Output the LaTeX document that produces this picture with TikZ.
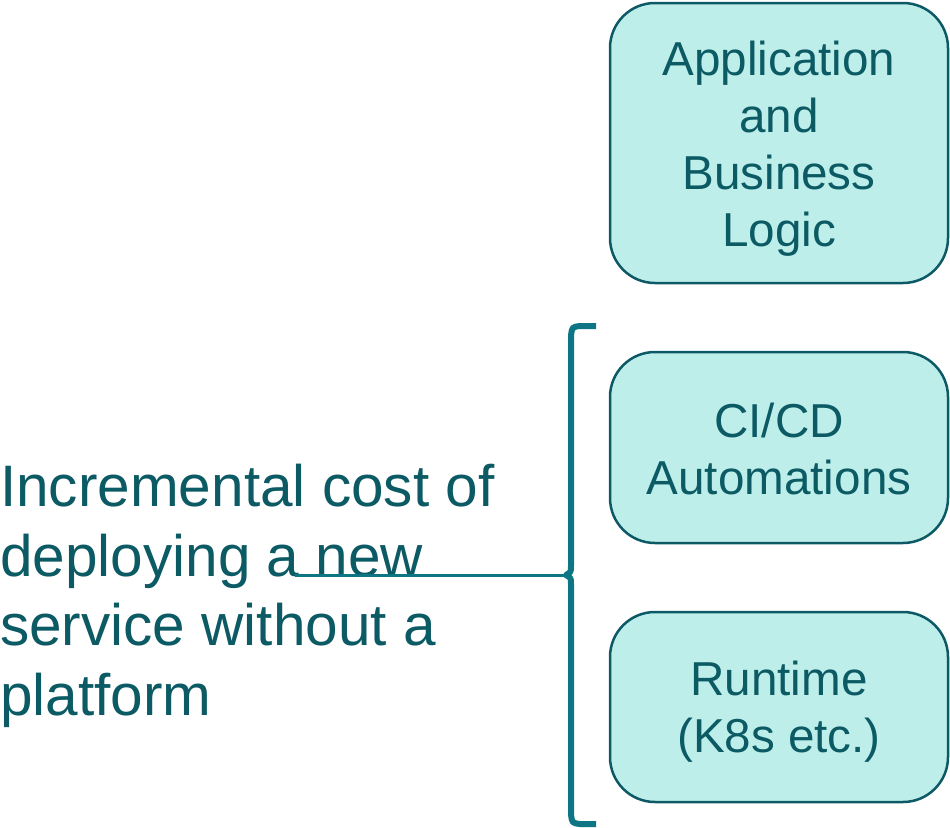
\documentclass[tikz,border=0pt]{standalone}
\usepackage{fontspec}
\setmainfont{Liberation Sans}
\definecolor{txt}{HTML}{0B5A64}
\definecolor{boxfill}{HTML}{BDEEEA}
\definecolor{boxline}{HTML}{0D5A66}
\definecolor{brace}{HTML}{0E7585}
\tikzset{
  layer/.style={draw=boxline, line width=2.5pt, fill=boxfill, rounded corners=45pt},
  boxtext/.style={text=txt, align=center, inner sep=0pt, font=\fontsize{47.6pt}{57pt}\selectfont},
  bracestyle/.style={draw=brace, line width=6pt, line join=round},
}
\begin{document}
\begin{tikzpicture}[x=1pt,y=-1pt]
\useasboundingbox (0,0) rectangle (950,827);
% boxes
\draw[layer] (610,3) rectangle (948,283);
\draw[layer] (610,352) rectangle (948,543);
\draw[layer] (610,612) rectangle (948,802);
\node[boxtext] (app) at (779,149) {Application\\and\\Business\\Logic};
\node[boxtext] (cicd) at (779,449) {CI/CD\\Automations};
\node[boxtext] (rt) at (779,712) {Runtime\\(K8s etc.)};
% label
\node[text=txt, align=left, anchor=west, inner sep=0pt,
      font=\fontsize{58.5pt}{69.5pt}\selectfont] (lbl) at (0,596)
  {Incremental cost of\\deploying a new\\service without a\\platform};
% brace
\coordinate (tip) at (566,575);
\coordinate (lineend) at (295,575);
\draw[bracestyle] (596,326) -- (580,326) .. controls (572,327) .. (571,336)
  -- (571,566) .. controls (571,572) .. (tip)
  .. controls (571,578) .. (571,584)
  -- (571,814) .. controls (572,823) .. (580,824) -- (596,824);
\draw[draw=brace, line width=3pt] (tip) -- (lineend);
\end{tikzpicture}
\end{document}
